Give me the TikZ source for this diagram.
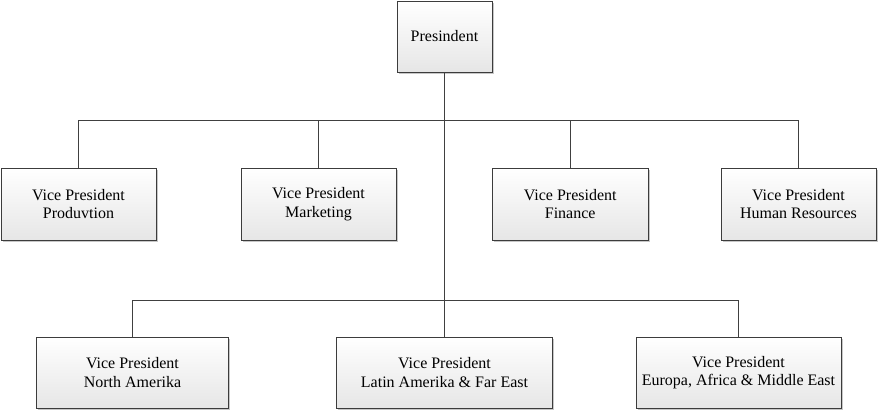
\documentclass[tikz,border=0pt]{standalone}
\usepackage{fontspec}
\setmainfont{Liberation Serif}
\usetikzlibrary{shadows}
\definecolor{boxline}{HTML}{3C3C3C}
\definecolor{boxbottom}{HTML}{E6E6E6}
\definecolor{wireline}{HTML}{404040}
\begin{document}
\begin{tikzpicture}[x=1pt,y=-1pt,
  orgbox/.style={draw=boxline, line width=0.9pt, rectangle, align=center,
    top color=white, bottom color=boxbottom, inner sep=0pt,
    font=\fontsize{16}{18.5}\selectfont,
    general shadow={fill=black!22, shadow xshift=1.6pt, shadow yshift=-1.6pt}},
  wire/.style={draw=wireline, line width=0.9pt}]
\useasboundingbox (0,0) rectangle (879,411);
\fill[white] (0,0) rectangle (879,411);

\node[orgbox, minimum width=95pt, minimum height=71pt] (pres) at (444.5,36.5) {Presindent};

\node[orgbox, minimum width=155pt, minimum height=72pt] (prod) at (78.5,204) {Vice President\\Produvtion};
\node[orgbox, minimum width=155pt, minimum height=72pt] (mkt) at (318.5,204) {Vice President\\Marketing};
\node[orgbox, minimum width=156pt, minimum height=72pt] (fin) at (570.2,204) {Vice President\\Finance};
\node[orgbox, minimum width=155pt, minimum height=72pt] (hr) at (798.5,204) {Vice President\\Human Resources};

\node[orgbox, minimum width=192pt, minimum height=71pt] (na) at (132.5,372.5) {Vice President\\North Amerika};
\node[orgbox, minimum width=216pt, minimum height=71pt] (lat) at (444.5,372.5) {Vice President\\Latin Amerika \& Far East};
\node[orgbox, minimum width=205pt, minimum height=71pt] (eu) at (738.5,372.5) {Vice President\\Europa, Africa \& Middle East};

\coordinate (b1) at (444.5,120.5);
\coordinate (b2) at (444.5,300.5);

\begin{scope}[on background layer/.try]
\draw[wire] (pres.south) -- (lat.north);
\draw[wire] (prod.north) |- (b1) -| (hr.north);
\draw[wire] (mkt.north) -- (mkt.north |- b1);
\draw[wire] (fin.north) -- (fin.north |- b1);
\draw[wire] (na.north) |- (b2) -| (eu.north);
\end{scope}
\end{tikzpicture}
\end{document}
